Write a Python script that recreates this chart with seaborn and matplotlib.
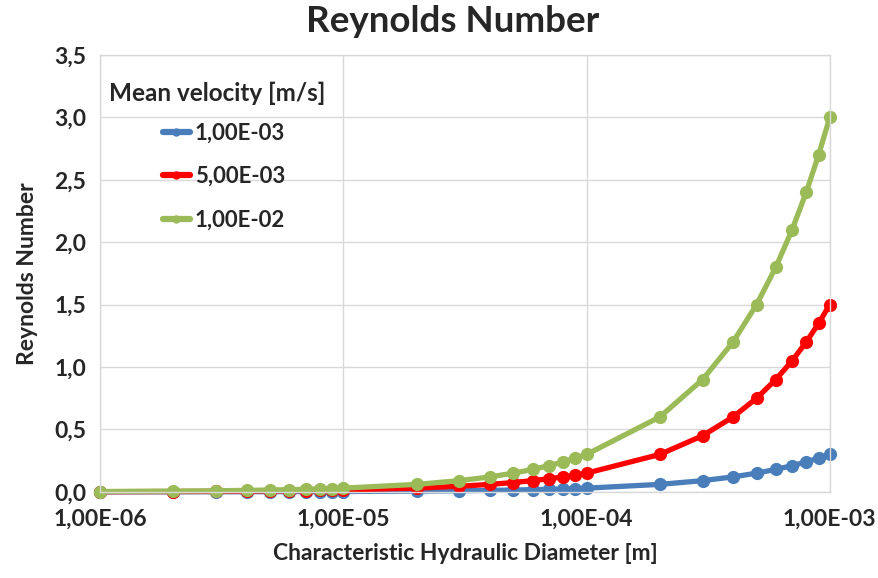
import matplotlib
matplotlib.use("Agg")
import matplotlib.pyplot as plt
import matplotlib.ticker as mticker
import seaborn as sns
import pandas as pd

diameter = [1e-6, 2e-6, 3e-6, 4e-6, 5e-6, 6e-6, 7e-6, 8e-6, 9e-6,
            1e-5, 2e-5, 3e-5, 4e-5, 5e-5, 6e-5, 7e-5, 8e-5, 9e-5,
            1e-4, 2e-4, 3e-4, 4e-4, 5e-4, 6e-4, 7e-4, 8e-4, 9e-4, 1e-3]
re_v1 = [0.0003, 0.0006, 0.0009, 0.0012, 0.0015, 0.0018, 0.0021, 0.0024, 0.0027,
         0.003, 0.006, 0.009, 0.012, 0.015, 0.018, 0.021, 0.024, 0.027,
         0.03, 0.06, 0.09, 0.12, 0.15, 0.18, 0.21, 0.24, 0.27, 0.30]
re_v5 = [0.0015, 0.003, 0.0045, 0.006, 0.0075, 0.009, 0.0105, 0.012, 0.0135,
         0.015, 0.03, 0.045, 0.06, 0.075, 0.09, 0.105, 0.12, 0.135,
         0.15, 0.30, 0.45, 0.60, 0.75, 0.90, 1.05, 1.20, 1.35, 1.50]
re_v10 = [0.003, 0.006, 0.009, 0.012, 0.015, 0.018, 0.021, 0.024, 0.027,
          0.03, 0.06, 0.09, 0.12, 0.15, 0.18, 0.21, 0.24, 0.27,
          0.30, 0.60, 0.90, 1.20, 1.50, 1.80, 2.10, 2.40, 2.70, 3.00]
series_names = ["1,00E-03", "5,00E-03", "1,00E-02"]
colors = ["#4A7EBB", "#FF0000", "#9BBB59"]
x_ticks = [1e-6, 1e-5, 1e-4, 1e-3]
x_tick_labels = ["1,00E-06", "1,00E-05", "1,00E-04", "1,00E-03"]
y_ticks = [0.0, 0.5, 1.0, 1.5, 2.0, 2.5, 3.0, 3.5]

df = pd.concat([
    pd.DataFrame({"D": diameter, "Re": vals, "v": name})
    for name, vals in zip(series_names, [re_v1, re_v5, re_v10])
])

sns.set_style("white")
plt.rcParams["font.family"] = ["Lato", "DejaVu Sans"]

fig = plt.figure(figsize=(8.79, 5.78), dpi=100)
ax = fig.add_axes([0.114, 0.149, 0.830, 0.756])

sns.lineplot(data=df, x="D", y="Re", hue="v", hue_order=series_names,
             palette=colors, marker="o", markersize=9.5, markeredgewidth=0,
             linewidth=3.8, ax=ax, legend=True)

ax.set_xscale("log")
ax.set_xlim(1e-6, 1e-3)
ax.set_ylim(0, 3.5)
ax.set_xticks(x_ticks)
ax.set_xticklabels(x_tick_labels)
ax.xaxis.set_minor_locator(mticker.NullLocator())
ax.set_yticks(y_ticks)
ax.set_yticklabels([f"{t:.1f}".replace(".", ",") for t in y_ticks])
for lab in ax.get_xticklabels() + ax.get_yticklabels():
    lab.set_fontweight("bold")
    lab.set_fontsize(16.5)
ax.tick_params(axis="x", length=0, pad=12)
ax.tick_params(axis="y", length=0, pad=10)

ax.grid(True, color="#D9D9D9", linewidth=1)
for s in ax.spines.values():
    s.set_color("#D9D9D9")
    s.set_linewidth(1)
for line in ax.lines:
    line.set_clip_on(False)

ax.set_xlabel("Characteristic Hydraulic Diameter [m]", fontsize=16.5, fontweight="bold", labelpad=10)
ax.set_ylabel("Reynolds Number", fontsize=16.5, fontweight="bold", labelpad=12)
fig.suptitle("Reynolds Number", fontsize=26.5, fontweight="bold", x=0.515, y=0.992)

leg = ax.legend(loc="upper left", bbox_to_anchor=(0.058, 0.89), frameon=False,
                fontsize=16, handlelength=1.25, handletextpad=0.2, labelspacing=1.0)
for t in leg.get_texts():
    t.set_fontweight("bold")
for h in leg.legend_handles:
    h.set_linewidth(4.5)
    h.set_markersize(6)
ax.text(0.012, 0.912, "Mean velocity [m/s]", transform=ax.transAxes,
        fontsize=17.5, fontweight="bold", va="center", ha="left")

fig.savefig("out.png", dpi=100)
